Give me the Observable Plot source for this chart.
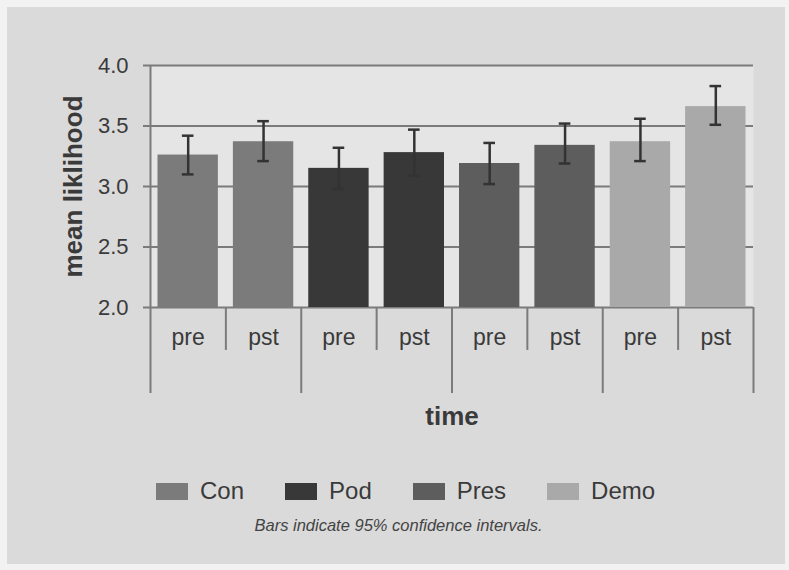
<!DOCTYPE html>
<html>
<head>
<meta charset="utf-8">
<script src="https://cdn.jsdelivr.net/npm/d3@7"></script>
<script src="https://cdn.jsdelivr.net/npm/@observablehq/plot@0.6"></script>
<style>
  html, body { margin: 0; padding: 0; background: #f2f2f2; width: 789px; height: 570px; overflow: hidden; }
  body { position: relative; font-family: "Liberation Sans", Arial, Helvetica, sans-serif; }
  #card { position: absolute; left: 7px; top: 7px; width: 778px; height: 557px; background: #dadada; }
  #chart { position: absolute; left: 0; top: 0; }
  #legend { position: absolute; left: 156px; top: 477px; display: flex; gap: 41px; align-items: center; }
  .item { display: flex; align-items: center; height: 28px; line-height: 28px; font-size: 24px; color: #3a3a3a; }
  .sw { width: 32px; height: 17px; margin-right: 12px; }
  #caption { position: absolute; left: 0; width: 797px; top: 515px; text-align: center; font-style: italic; font-size: 16.5px; line-height: 20px; color: #444; }
</style>
</head>
<body>
<div id="card"></div>
<div id="chart"></div>
<div id="legend"></div>
<div id="caption">Bars indicate 95% confidence intervals.</div>
<script>
// ---- data ----
const groups = ["Con", "Pod", "Pres", "Demo"];
const times = ["pre", "pst"];
const means = [3.26, 3.37, 3.15, 3.28, 3.19, 3.34, 3.37, 3.66];
const lows  = [3.10, 3.21, 2.98, 3.09, 3.02, 3.19, 3.21, 3.51];
const highs = [3.42, 3.54, 3.32, 3.47, 3.36, 3.52, 3.56, 3.83];
const groupColors = ["#7b7b7b", "#383838", "#5d5d5d", "#a9a9a9"];
const yTicks = [2.0, 2.5, 3.0, 3.5, 4.0];
const yLabel = "mean liklihood";
const xLabel = "time";

// ---- table ----
const rows = [];
groups.forEach((g, gi) => times.forEach((t, ti) => {
  const i = gi * times.length + ti;
  rows.push({i, group: g, time: t, mean: means[i], lo: lows[i], hi: highs[i]});
}));
const boundaries = d3.range(0, rows.length + 1);

const grid = "#7b7b7b";
const ink = "#3a3a3a";
const CAP = 0.077;

const chart = Plot.plot({
  width: 789,
  height: 440,
  marginLeft: 150,
  marginRight: 36,
  marginTop: 65,
  marginBottom: 133,
  style: {background: "transparent", fontFamily: "'Liberation Sans', Arial, Helvetica, sans-serif"},
  x: {domain: [0, rows.length], axis: null},
  y: {domain: [2, 4], axis: null},
  color: {domain: groups, range: groupColors},
  marks: [
    Plot.frame({fill: "#e5e5e5", stroke: null}),
    Plot.ruleY(yTicks, {stroke: grid, strokeWidth: 2}),
    Plot.rectY(rows, {x1: "i", x2: d => d.i + 1, y1: 2, y2: "mean", fill: "group", insetLeft: 7.5, insetRight: 7.5}),
    Plot.ruleX(rows, {x: d => d.i + 0.5, y1: "lo", y2: "hi", stroke: "#333", strokeWidth: 2.5}),
    Plot.ruleY(rows, {y: "hi", x1: d => d.i + 0.5 - CAP, x2: d => d.i + 0.5 + CAP, stroke: "#333", strokeWidth: 2.5}),
    Plot.ruleY(rows, {y: "lo", x1: d => d.i + 0.5 - CAP, x2: d => d.i + 0.5 + CAP, stroke: "#333", strokeWidth: 2.5}),
    Plot.axisY({ticks: yTicks, tickFormat: d3.format(".1f"), tickSize: 7, tickPadding: 15, fontSize: 22, stroke: grid, strokeWidth: 2, fill: ink, label: null}),
    Plot.ruleX([0], {y1: 2, y2: 4, stroke: grid, strokeWidth: 2}),
    Plot.ruleX(boundaries, {x: d => d, y1: 2, y2: d => d % times.length === 0 ? 1.289 : 1.645, stroke: grid, strokeWidth: 2}),
    Plot.text(rows, {x: d => d.i + 0.5, text: "time", frameAnchor: "bottom", dy: 37, fontSize: 23, fill: ink}),
    Plot.text([yLabel], {text: d => d, frameAnchor: "left", textAnchor: "middle", rotate: -90, dx: -77, fontSize: 26, fontWeight: "bold", fill: ink}),
    Plot.text([xLabel], {text: d => d, frameAnchor: "bottom", dy: 117, fontSize: 26, fontWeight: "bold", fill: ink})
  ]
});
document.getElementById("chart").appendChild(chart);

// ---- legend ----
const legend = document.getElementById("legend");
groups.forEach((g, gi) => {
  const item = document.createElement("div");
  item.className = "item";
  const sw = document.createElement("span");
  sw.className = "sw";
  sw.style.background = groupColors[gi];
  const label = document.createElement("span");
  label.textContent = g;
  item.appendChild(sw);
  item.appendChild(label);
  legend.appendChild(item);
});
</script>
</body>
</html>
